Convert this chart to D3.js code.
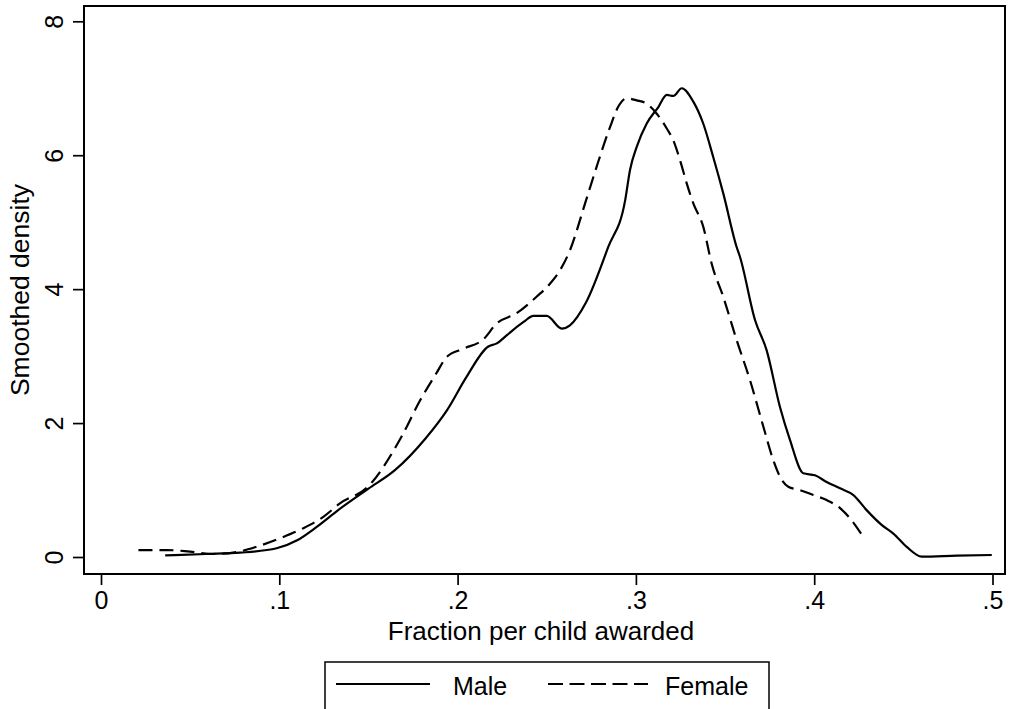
<!DOCTYPE html>
<html>
<head>
<meta charset="utf-8">
<script src="https://cdn.jsdelivr.net/npm/d3@7"></script>
<style>
  body { margin: 0; background: #fff; }
  text { font-family: "Liberation Sans", Arial, Helvetica, sans-serif; fill: #000; }
</style>
</head>
<body>
<div id="chart"></div>
<script>
    // Chart size
    var width = 1009
    var height = 709

    // Male density (x = fraction per child, y = smoothed density)
    var maleX = [0.036, 0.059, 0.078, 0.0985, 0.11, 0.121, 0.133, 0.150, 0.165, 0.182, 0.194, 0.205, 0.217, 0.222, 0.2275, 0.237, 0.2425, 0.25, 0.2584, 0.263, 0.272, 0.2845, 0.294, 0.2967, 0.3004, 0.306, 0.3126, 0.3173, 0.321, 0.3257, 0.3322, 0.3378, 0.3434, 0.349, 0.3565, 0.3584, 0.3668, 0.3733, 0.3808, 0.3864, 0.3939, 0.4004, 0.407, 0.4145, 0.422, 0.4294, 0.4378, 0.4444, 0.4519, 0.4603, 0.48, 0.4996]
    var maleY = [0.025, 0.045, 0.065, 0.13, 0.25, 0.45, 0.70, 1.02, 1.30, 1.77, 2.19, 2.69, 3.14, 3.19, 3.31, 3.51, 3.60, 3.60, 3.41, 3.46, 3.80, 4.63, 5.33, 5.78, 6.12, 6.47, 6.72, 6.90, 6.885, 7.00, 6.80, 6.47, 5.97, 5.43, 4.63, 4.48, 3.54, 3.09, 2.24, 1.75, 1.25, 1.22, 1.12, 1.025, 0.925, 0.70, 0.48, 0.35, 0.15, 0.005, 0.02, 0.03]

    // Female density
    var femaleX = [0.021, 0.0368, 0.05, 0.063, 0.0742, 0.0873, 0.1004, 0.1135, 0.1247, 0.134, 0.1497, 0.1686, 0.179, 0.188, 0.194, 0.2032, 0.2144, 0.222, 0.2331, 0.2444, 0.2518, 0.2574, 0.263, 0.2715, 0.278, 0.2855, 0.290, 0.2948, 0.3004, 0.306, 0.3117, 0.3173, 0.321, 0.3247, 0.3285, 0.3322, 0.3378, 0.3425, 0.349, 0.3565, 0.364, 0.3715, 0.377, 0.3808, 0.3855, 0.392, 0.3995, 0.407, 0.4145, 0.42, 0.4275]
    var femaleY = [0.104, 0.104, 0.08, 0.045, 0.065, 0.154, 0.28, 0.43, 0.60, 0.80, 1.05, 1.80, 2.34, 2.74, 2.99, 3.11, 3.25, 3.49, 3.64, 3.89, 4.08, 4.28, 4.58, 5.28, 5.83, 6.42, 6.72, 6.85, 6.82, 6.77, 6.62, 6.40, 6.22, 5.93, 5.58, 5.28, 4.93, 4.38, 3.885, 3.24, 2.64, 1.945, 1.45, 1.20, 1.05, 1.0, 0.925, 0.85, 0.73, 0.58, 0.30]

    // Ticks
    var xTicks = [0, 0.1, 0.2, 0.3, 0.4, 0.5]
    var xTickLabels = ["0", ".1", ".2", ".3", ".4", ".5"]
    var yTicks = [0, 2, 4, 6, 8]

    var svg = d3.select("#chart")
      .append("svg")
      .attr("width", width)
      .attr("height", height)

    // plot region (frame) and scales
    var frame = {left: 84, right: 1005, top: 6, bottom: 574}

    var x = d3.scaleLinear().domain([0, 0.5]).range([101, 992.5])
    var y = d3.scaleLinear().domain([0, 8]).range([557, 21.3])

    svg.append("rect")
        .attr("x", frame.left)
        .attr("y", frame.top)
        .attr("width", frame.right - frame.left)
        .attr("height", frame.bottom - frame.top)
        .attr("fill", "none")
        .attr("stroke", "#000")
        .attr("stroke-width", 2)

    // x axis
    var xAxis = svg.append("g")
        .attr("transform", "translate(0," + frame.bottom + ")")
        .call(d3.axisBottom(x)
            .tickValues(xTicks)
            .tickSize(11)
            .tickPadding(6)
            .tickFormat((d, i) => xTickLabels[i]))
    xAxis.select(".domain").remove()
    xAxis.selectAll("line").attr("stroke", "#000").attr("stroke-width", 1.7)
    xAxis.selectAll("text")
        .attr("font-size", 25)
        .attr("font-family", "Liberation Sans, Arial, sans-serif")
        .attr("fill", "#000")

    // y axis, labels rotated like Stata
    var yAxis = svg.append("g")
        .attr("transform", "translate(" + frame.left + ",0)")
        .call(d3.axisLeft(y)
            .tickValues(yTicks)
            .tickSize(11))
    yAxis.select(".domain").remove()
    yAxis.selectAll("line").attr("stroke", "#000").attr("stroke-width", 1.7)
    yAxis.selectAll("text").remove()
    yAxis.selectAll(".tick")
        .append("text")
        .attr("transform", "translate(-21,0) rotate(-90)")
        .attr("text-anchor", "middle")
        .attr("font-size", 25)
        .attr("font-family", "Liberation Sans, Arial, sans-serif")
        .attr("fill", "#000")
        .text(d => d)

    // axis titles
    svg.append("text")
        .attr("x", 541)
        .attr("y", 640)
        .attr("text-anchor", "middle")
        .attr("font-size", 26)
        .text("Fraction per child awarded")

    svg.append("text")
        .attr("transform", "translate(29," + (frame.top + frame.bottom) / 2 + ") rotate(-90)")
        .attr("text-anchor", "middle")
        .attr("font-size", 26.5)
        .text("Smoothed density")

    // curves
    var line = d3.line()
        .x(d => x(d[0]))
        .y(d => y(d[1]))
        .curve(d3.curveMonotoneX)

    var maleData = maleX.map((v, i) => [v, maleY[i]])
    var femaleData = femaleX.map((v, i) => [v, femaleY[i]])

    svg.append("path")
        .datum(maleData)
        .attr("d", line)
        .attr("fill", "none")
        .attr("stroke", "#000")
        .attr("stroke-width", 2.2)

    svg.append("path")
        .datum(femaleData)
        .attr("d", line)
        .attr("fill", "none")
        .attr("stroke", "#000")
        .attr("stroke-width", 2.2)
        .attr("stroke-dasharray", "14,7")

    // legend
    var legend = svg.append("g")
    legend.append("rect")
        .attr("x", 325)
        .attr("y", 662)
        .attr("width", 444)
        .attr("height", 60)
        .attr("fill", "#fff")
        .attr("stroke", "#000")
        .attr("stroke-width", 1.5)

    legend.append("line")
        .attr("x1", 336).attr("x2", 430)
        .attr("y1", 684).attr("y2", 684)
        .attr("stroke", "#000")
        .attr("stroke-width", 2.2)
    legend.append("text")
        .attr("x", 453)
        .attr("y", 695)
        .attr("font-size", 25)
        .text("Male")

    legend.append("line")
        .attr("x1", 548).attr("x2", 648)
        .attr("y1", 684).attr("y2", 684)
        .attr("stroke", "#000")
        .attr("stroke-width", 2.2)
        .attr("stroke-dasharray", "15,6.5")
    legend.append("text")
        .attr("x", 665)
        .attr("y", 695)
        .attr("font-size", 25)
        .text("Female")
</script>
</body>
</html>
